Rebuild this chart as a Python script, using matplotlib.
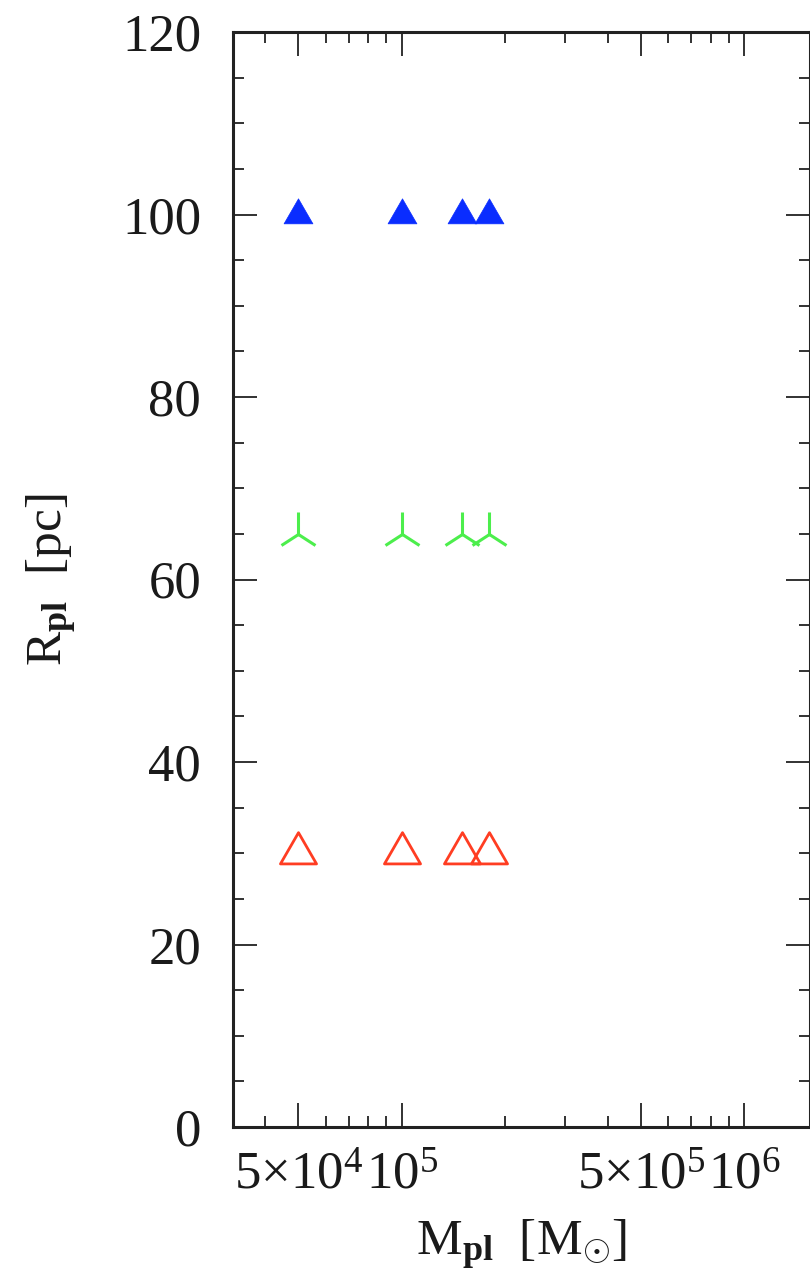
import numpy as np
import matplotlib
matplotlib.use("Agg")
import matplotlib.pyplot as plt
from matplotlib.ticker import FixedLocator, LogLocator, MultipleLocator, NullFormatter
from matplotlib.path import Path

# ---- data ----
masses = [5e4, 1e5, 1.5e5, 1.8e5]          # M_pl [M_sun]
r_large = [100, 100, 100, 100]             # R_pl = 100 pc (blue filled triangles)
r_mid = [65, 65, 65, 65]                   # R_pl = 65 pc (green three-pronged)
r_small = [30, 30, 30, 30]                 # R_pl = 30 pc (red open triangles)

xtick_vals = [5e4, 1e5, 5e5, 1e6]
xtick_labels = [r'$5{\times}10^{4}$', r'$10^{5}$', r'$5{\times}10^{5}$', r'$10^{6}$']
ytick_vals = [0, 20, 40, 60, 80, 100, 120]
ytick_labels = ['0', '20', '40', '60', '80', '100', '120']

plt.rcParams['font.family'] = ['Liberation Serif', 'DejaVu Serif']
plt.rcParams['mathtext.fontset'] = 'custom'
plt.rcParams['mathtext.rm'] = 'Liberation Serif'
plt.rcParams['mathtext.it'] = 'Liberation Serif:italic'
plt.rcParams['mathtext.bf'] = 'Liberation Serif:bold'

W, H = 810, 1276
fig = plt.figure(figsize=(W / 100, H / 100), dpi=100)
left, right, top, bottom = 233, 809.5, 32, 1127
ax = fig.add_axes([left / W, 1 - bottom / H, (right - left) / W, (bottom - top) / H])

# centroid-centred triangle (as in the original plotting package)
tri = Path([(0, 1), (-0.866, -0.5), (0.866, -0.5), (0, 1)],
           [Path.MOVETO, Path.LINETO, Path.LINETO, Path.CLOSEPOLY])

ax.plot(masses, r_large, linestyle='none', marker=tri, markersize=24,
        markerfacecolor='#0a2dff', markeredgecolor='#0a2dff', markeredgewidth=0.5)
ax.plot(masses, r_mid, linestyle='none', marker='2', markersize=31,
        markeredgecolor='#4cee4c', markeredgewidth=2.2)
ax.plot(masses, r_small, linestyle='none', marker=tri, markersize=30,
        markerfacecolor='none', markeredgecolor='#ff3d22', markeredgewidth=2.0)

ax.set_xscale('log')
ax.set_xlim(3.22e4, 1.55e6)
ax.set_ylim(0, 120)

ax.xaxis.set_major_locator(FixedLocator(xtick_vals))
ax.set_xticklabels(xtick_labels)
ax.xaxis.set_minor_locator(LogLocator(base=10, subs=(2, 3, 4, 6, 7, 8, 9)))
ax.xaxis.set_minor_formatter(NullFormatter())

ax.yaxis.set_major_locator(FixedLocator(ytick_vals))
ax.set_yticklabels(ytick_labels)
ax.yaxis.set_minor_locator(MultipleLocator(5))

ax.tick_params(which='both', direction='in', top=True, right=True,
               width=1.3, color='#222222', labelsize=38, labelcolor='#1a1a1a')
ax.tick_params(which='major', length=17.5)
ax.tick_params(which='minor', length=8)
ax.tick_params(axis='y', pad=23)
ax.tick_params(axis='x', pad=18)

for sp in ax.spines.values():
    sp.set_linewidth(2.2)
    sp.set_color('#222222')

ax.set_xlabel(r'M$_{\mathbf{pl}}$  [M$_{\odot}$]', fontsize=37, va='baseline', color='#1a1a1a')
ax.xaxis.set_label_coords(0.5, (bottom - 1255) / (bottom - top))
ax.set_ylabel(r'R$_{\mathbf{pl}}$  [pc]', fontsize=37, va='baseline', color='#1a1a1a')
ax.yaxis.set_label_coords((62 - left) / (right - left), 0.5)

fig.savefig('out.png', dpi=100, facecolor='white')
